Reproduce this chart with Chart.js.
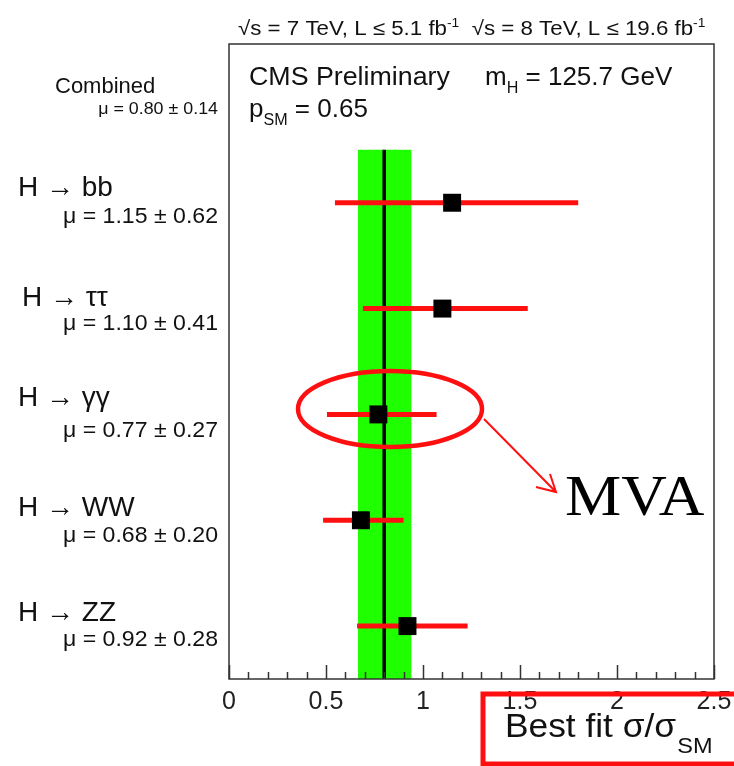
<!DOCTYPE html>
<html>
<head>
<meta charset="utf-8">
<script src="https://cdn.jsdelivr.net/npm/chart.js@4/dist/chart.umd.min.js"></script>
<style>
  html, body { margin: 0; padding: 0; background: #fff; }
  canvas { display: block; }
</style>
</head>
<body>
<canvas id="c" width="734" height="766"></canvas>
<script>
// rows, top to bottom (0 = Combined)
const channels = ['Combined', 'H \u2192 bb', 'H \u2192 \u03c4\u03c4', 'H \u2192 \u03b3\u03b3', 'H \u2192 WW', 'H \u2192 ZZ'];
const muValue = [0.80, 1.15, 1.10, 0.77, 0.68, 0.92];
const muError = [0.14, 0.62, 0.41, 0.27, 0.20, 0.28];
// error bar ends
const barLow  = [null, 0.546, 0.69, 0.505, 0.485, 0.66];
const barHigh = [null, 1.80, 1.54, 1.07, 0.90, 1.23];
// combined band
const bandLow = 0.665, bandHigh = 0.94, bestFit = 0.80;
const xTicks = [0, 0.5, 1, 1.5, 2, 2.5];
const xTickLabels = ['0', '0.5', '1', '1.5', '2', '2.5'];

// label layout (pixel offsets from row centre)
const nameX  = [55, 18, 22, 18, 18, 18];
const nameDy = [-4, -7, -3, -8, -4, -5];
const muDy   = [17, 20, 21, 23, 22, 20];

const RED = '#ff1010';
const SANS = '"Liberation Sans", Arial, sans-serif';

const rows = channels.map((_, i) => i).slice(1);

const errorBars = rows.map(i => ({
  data: [{ x: barLow[i], y: i }, { x: barHigh[i], y: i }],
  showLine: true, borderColor: RED, borderWidth: 5, borderCapStyle: 'butt',
  pointRadius: 0, order: 1
}));

// draws a string made of normal / sub / sup parts, optionally stretched in x
function rich(ctx, x, y, parts, size, sx = 1) {
  ctx.save();
  ctx.translate(x, y);
  ctx.scale(sx, 1);
  let cx = 0;
  parts.forEach(([t, kind]) => {
    const s = kind ? size * 0.62 : size;
    const dy = kind === 'sub' ? size * 0.3 : kind === 'sup' ? -size * 0.42 : 0;
    ctx.font = s + 'px ' + SANS;
    ctx.fillText(t, cx, dy);
    cx += ctx.measureText(t).width;
  });
  ctx.restore();
}

function stretched(ctx, text, x, y, font, sx, align) {
  ctx.save();
  ctx.font = font;
  const w = ctx.measureText(text).width * sx;
  const x0 = align === 'right' ? x - w : align === 'center' ? x - w / 2 : x;
  ctx.translate(x0, y);
  ctx.scale(sx, 1);
  ctx.textAlign = 'left';
  ctx.fillText(text, 0, 0);
  ctx.restore();
}

const decor = {
  id: 'decor',
  afterDraw(chart) {
    const { ctx, chartArea: a, scales: { x, y } } = chart;
    ctx.save();

    // frame
    ctx.strokeStyle = '#333';
    ctx.lineWidth = 1.5;
    ctx.strokeRect(a.left, a.top, a.right - a.left, a.bottom - a.top);

    // inner tick marks on the x axis
    ctx.beginPath();
    for (let k = 0; k <= 25; k++) {
      const px = Math.round(x.getPixelForValue(k / 10)) + 0.5;
      const len = k % 5 === 0 ? 14 : 7;
      ctx.moveTo(px, a.bottom);
      ctx.lineTo(px, a.bottom - len);
    }
    ctx.stroke();

    ctx.textBaseline = 'alphabetic';
    ctx.textAlign = 'left';

    // tick labels
    ctx.fillStyle = '#222';
    xTicks.forEach((v, i) => {
      stretched(ctx, xTickLabels[i], x.getPixelForValue(v), a.bottom + 30, '25px ' + SANS, 1, 'center');
    });

    ctx.fillStyle = '#111';

    // header
    rich(ctx, 238, 35, [['\u221as = 7 TeV, L \u2264 5.1 fb', ''], ['-1', 'sup'],
      ['  \u221as = 8 TeV, L \u2264 19.6 fb', ''], ['-1', 'sup']], 20, 1.115);

    // in-frame text
    rich(ctx, 249, 85, [['CMS Preliminary', '']], 26, 1.03);
    rich(ctx, 485, 85, [['m', ''], ['H', 'sub'], [' = 125.7 GeV', '']], 26);
    rich(ctx, 249, 117, [['p', ''], ['SM', 'sub'], [' = 0.65', '']], 26);

    // channel labels
    channels.forEach((name, i) => {
      const cy = y.getPixelForValue(i);
      ctx.textAlign = 'left';
      ctx.font = (i === 0 ? 22 : 28) + 'px ' + SANS;
      ctx.fillText(name, nameX[i], cy + nameDy[i]);
      const mu = '\u03bc = ' + muValue[i].toFixed(2) + ' \u00b1 ' + muError[i].toFixed(2);
      stretched(ctx, mu, 218, cy + muDy[i], (i === 0 ? 17 : 22) + 'px ' + SANS, 1.05, 'right');
    });
    ctx.textAlign = 'left';

    // axis title
    ctx.save();
    ctx.translate(505, 737);
    ctx.scale(1.07, 1);
    ctx.font = '33px ' + SANS;
    const tw = ctx.measureText('Best fit \u03c3/\u03c3').width;
    ctx.fillText('Best fit \u03c3/\u03c3', 0, 0);
    ctx.font = '22px ' + SANS;
    ctx.fillText('SM', tw + 1, 16);
    ctx.restore();

    // annotations
    ctx.strokeStyle = RED;
    ctx.lineWidth = 4.5;
    ctx.beginPath();
    ctx.ellipse(390, 409, 92, 38, 0, 0, Math.PI * 2);
    ctx.stroke();

    ctx.lineWidth = 2;
    ctx.beginPath();
    ctx.moveTo(484, 419); ctx.lineTo(556, 492);
    ctx.moveTo(536, 487); ctx.lineTo(556, 492); ctx.lineTo(550, 474);
    ctx.stroke();

    ctx.fillStyle = '#000';
    stretched(ctx, 'MVA', 565, 515, '58px "Liberation Serif", "Times New Roman", serif', 1.09, 'left');

    ctx.lineWidth = 5;
    ctx.strokeRect(483, 694, 270, 70);

    ctx.restore();
  }
};

new Chart(document.getElementById('c'), {
  type: 'scatter',
  data: {
    datasets: [
      {
        data: rows.map(i => ({ x: muValue[i], y: i })),
        pointStyle: 'rect', pointRadius: 12.7, pointHoverRadius: 12.7,
        backgroundColor: '#000', borderWidth: 0, order: 0
      },
      ...errorBars,
      {
        data: [{ x: bestFit, y: 0.5 }, { x: bestFit, y: 5.5 }],
        showLine: true, borderColor: '#000', borderWidth: 3.5, pointRadius: 0, order: 2
      },
      {
        data: [{ x: bandLow, y: 0.5 }, { x: bandHigh, y: 0.5 }, { x: bandHigh, y: 5.5 }, { x: bandLow, y: 5.5 }, { x: bandLow, y: 0.5 }],
        showLine: true, fill: 'shape', backgroundColor: '#20ff00', borderWidth: 0,
        borderColor: 'rgba(0,0,0,0)', pointRadius: 0, order: 3
      }
    ]
  },
  options: {
    responsive: false, animation: false, devicePixelRatio: 1,
    layout: { padding: { left: 229, right: 20, top: 44, bottom: 87 } },
    plugins: { legend: { display: false }, tooltip: { enabled: false } },
    scales: {
      x: { type: 'linear', min: 0, max: 2.5, display: false },
      y: { type: 'linear', min: -0.5, max: 5.5, reverse: true, display: false }
    }
  },
  plugins: [decor]
});
</script>
</body>
</html>
